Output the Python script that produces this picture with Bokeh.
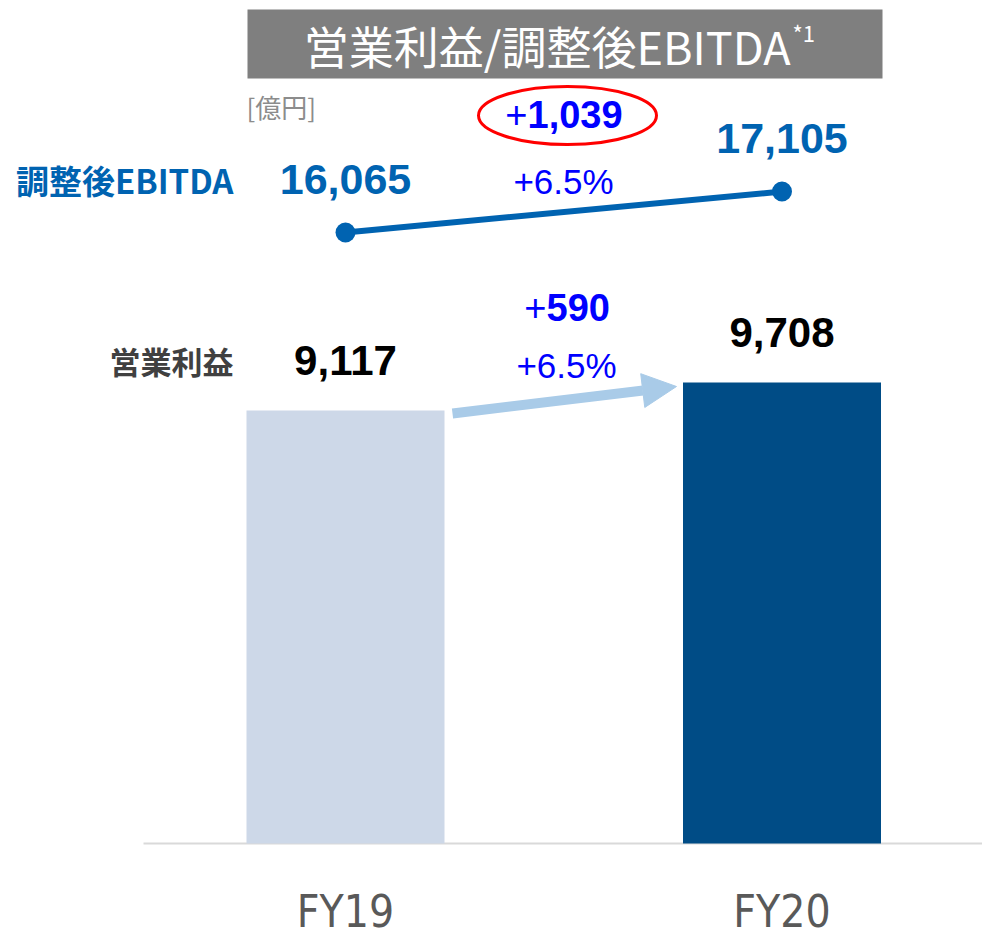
from bokeh.plotting import figure
from bokeh.models import Range1d, Arrow, NormalHead
from bokeh.core.properties import value
from bokeh.embed import file_html
from bokeh.resources import INLINE

# ---------------- data ----------------
categories = ["FY19", "FY20"]
operating_profit = [9117, 9708]
adj_ebitda = [16065, 17105]
ebitda_change = "1,039"
op_change = "590"
ebitda_pct = "+6.5%"
op_pct = "+6.5%"
title_text = "営業利益/調整後EBITDA"
title_note = "*1"
unit_label = "[億円]"
ebitda_label = "調整後EBITDA"
op_label = "営業利益"

# ---------------- styles ----------------
bar_colors = ["#cdd8e8", "#004c86"]
EB_COLOR = "#0063b1"
CHG_COLOR = "#0000ff"
CJK = "Noto Sans CJK JP"
NUM = "Liberation Sans"

W, H = 982, 936
xs = [0, 1]

# layout helpers: page-pixel -> data coordinates
X0, XSTEP = 345.0, 436.5
def dx(px):
    return (px - X0) / XSTEP

BASE_PY, K = 843.0, 0.04749          # px per unit on the main axis
def dy(py):
    return (BASE_PY - py) / K

EB_UPP = 25.37                        # units per px for the EBITDA line scale
EB_HI = 21951.0
EB_LO = EB_HI - H * EB_UPP

p = figure(width=W, height=H, output_backend="svg", toolbar_location=None,
           x_range=Range1d(dx(0), dx(W)), y_range=Range1d(dy(H), dy(0)),
           x_axis_location=None, y_axis_location=None, min_border=0,
           outline_line_color=None, background_fill_color="white",
           border_fill_color="white")
p.extra_y_ranges = {"eb": Range1d(EB_LO, EB_HI)}
p.xgrid.visible = False
p.ygrid.visible = False


def txt(x, y, s, size, color, bold=False, align="center", font=NUM,
        baseline="middle", rng="default"):
    p.text(x=[x], y=[y], text=[s], text_font=value(font),
           text_font_size=f"{size}px", text_color=color,
           text_font_style="bold" if bold else "normal",
           text_align=align, text_baseline=baseline, y_range_name=rng)


# title box
p.quad(left=dx(247), right=dx(882), top=dy(9), bottom=dy(78),
       fill_color="#7f7f7f", line_color=None)
txt(dx(790), dy(45), title_text, 45, "white", align="right", font=CJK)
txt(dx(792), dy(31), title_note, 22, "white", align="left", font=CJK)

# unit
txt(dx(246), dy(106), unit_label, 26, "#8c8c8c", align="left", font=CJK)

# baseline
p.segment(x0=[dx(143)], y0=[0], x1=[dx(990)], y1=[0],
          line_color="#d9d9d9", line_width=2)

# bars
p.vbar(x=xs, top=operating_profit, width=198 / XSTEP, bottom=0,
       fill_color=bar_colors, line_color=None)

# EBITDA line
p.line(x=xs, y=adj_ebitda, line_color=EB_COLOR, line_width=6,
       y_range_name="eb")
p.scatter(x=xs, y=adj_ebitda, size=20, fill_color=EB_COLOR,
          line_color=None, y_range_name="eb")

# value labels
op_gap = 50 / K
p.text(x=xs, y=[v + op_gap for v in operating_profit],
       text=[f"{v:,}" for v in operating_profit], text_font=value(NUM),
       text_font_size="42px", text_font_style="bold", text_color="#000000",
       text_align="center", text_baseline="middle")
eb_gap = 53 * EB_UPP
p.text(x=xs, y=[v + eb_gap for v in adj_ebitda],
       text=[f"{v:,}" for v in adj_ebitda], text_font=value(NUM),
       text_font_size="43px", text_font_style="bold", text_color=EB_COLOR,
       text_align="center", text_baseline="middle", y_range_name="eb")

# row labels (aligned with FY19 value labels)
txt(dx(233), adj_ebitda[0] + eb_gap, ebitda_label, 33, EB_COLOR, bold=True,
    align="right", font=CJK, rng="eb")
txt(dx(233), operating_profit[0] + op_gap, op_label, 31, "#404040", bold=True,
    align="right", font=CJK)

# EBITDA change
txt(dx(527), dy(114), "+", 38, CHG_COLOR, align="right")
txt(dx(527), dy(114), ebitda_change, 38, CHG_COLOR, bold=True, align="left")
txt(dx(563), dy(181), ebitda_pct, 35, CHG_COLOR)
p.ellipse(x=[dx(567)], y=[dy(115)], width=178, height=58,
          width_units="screen", height_units="screen",
          fill_color=None, line_color="#ff0000", line_width=3)

# operating profit change
txt(dx(546), dy(307), "+", 38, CHG_COLOR, align="right")
txt(dx(546), dy(307), op_change, 38, CHG_COLOR, bold=True, align="left")
txt(dx(566), dy(365), op_pct, 35, CHG_COLOR)

# arrow
ARROW_COLOR = "#a9cbe8"
p.add_layout(Arrow(x_start=dx(452), y_start=dy(413), x_end=dx(676), y_end=dy(386),
                   line_color=ARROW_COLOR, line_width=10,
                   end=NormalHead(size=34, fill_color=ARROW_COLOR,
                                  line_color=ARROW_COLOR, line_width=1)))

# category labels
p.text(x=xs, y=[dy(911)] * 2, text=categories,
       text_font=value("'Liberation Sans Narrow', 'DejaVu Sans Condensed', 'Roboto Condensed', 'Liberation Sans'"),
       text_font_size="44px", text_color="#595959",
       text_align="center", text_baseline="middle")

open("out.html", "w").write(file_html(p, INLINE))
